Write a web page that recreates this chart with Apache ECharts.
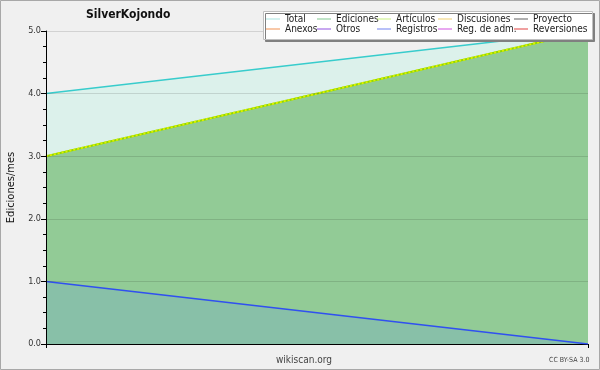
<!DOCTYPE html>
<html><head><meta charset="utf-8">
<script src="https://cdn.jsdelivr.net/npm/echarts@6/dist/echarts.min.js"></script>
<style>html,body{margin:0;padding:0;background:#f0f0f0}#c{width:600px;height:370px}</style>
</head><body><div id="c"></div>
<script>
const categories = ['M1', 'M2'];
const total = [4, 5];
const ediciones = [3, 5];
const articulos = [3, 5];
const registros = [1, 0];
const legendRow1 = ['Total', 'Ediciones', 'Artículos', 'Discusiones', 'Proyecto'];
const legendRow2 = ['Anexos', 'Otros', 'Registros', 'Reg. de adm.', 'Reversiones'];
const legendColors = {
  'Total': '#a8e4e0', 'Ediciones': '#80c890', 'Artículos': '#c8f080', 'Discusiones': '#f0d070', 'Proyecto': '#606060',
  'Anexos': '#f09050', 'Otros': '#9050e0', 'Registros': '#7080f0', 'Reg. de adm.': '#d050e0', 'Reversiones': '#e04040'
};
const colX = [285, 336, 396, 457, 533];
const font = 'DejaVu Sans Condensed';

const legends = [];
[legendRow1, legendRow2].forEach((row, r) => {
  row.forEach((name, i) => {
    legends.push({
      left: colX[i] - 19, top: r === 0 ? 14 : 24,
      itemWidth: 14, itemHeight: 1, icon: 'rect', padding: 0,
      selectedMode: false, z: 20,
      textStyle: { fontFamily: font, fontSize: 10, color: '#222' },
      data: [{ name: name, itemStyle: { color: legendColors[name] } }]
    });
  });
});

const allNames = legendRow1.concat(legendRow2);
const series = [];
const used = { 'Total': 1, 'Ediciones': 1, 'Artículos': 1, 'Registros': 1 };
series.push({
  name: 'Total', type: 'line', data: total, symbol: 'none', z: 2,
  lineStyle: { color: '#38cccc', width: 1.5 }, itemStyle: { color: legendColors['Total'] },
  areaStyle: { color: '#dcf1eb', opacity: 1 }
});
series.push({
  name: 'Ediciones', type: 'line', data: ediciones, symbol: 'none', z: 3,
  lineStyle: { color: '#92cb96', width: 1 }, itemStyle: { color: legendColors['Ediciones'] },
  areaStyle: { color: '#92cb96', opacity: 1 }
});
series.push({
  name: 'Artículos', type: 'line', data: articulos, symbol: 'none', z: 4,
  lineStyle: { color: '#90d800', width: 2 }, itemStyle: { color: legendColors['Artículos'] }
});
series.push({
  name: 'Artículos', type: 'line', data: articulos, symbol: 'none', z: 4,
  lineStyle: { color: '#e0f000', width: 2, type: [2, 2] }, legendHoverLink: false
});
series.push({
  name: 'Registros', type: 'line', data: registros, symbol: 'none', z: 5,
  lineStyle: { color: '#3050f0', width: 1.5 }, itemStyle: { color: legendColors['Registros'] },
  areaStyle: { color: '#88c0a8', opacity: 1 }
});
allNames.forEach(n => {
  if (!used[n]) series.push({ name: n, type: 'line', data: [], symbol: 'none', itemStyle: { color: legendColors[n] } });
});

const chart = echarts.init(document.getElementById('c'), null, { renderer: 'canvas' });
chart.setOption({
  animation: false,
  backgroundColor: '#f0f0f0',
  title: { text: 'SilverKojondo', left: 86, top: 9, padding: 0, textStyle: { fontFamily: font, fontSize: 12, fontWeight: 'bold', color: '#111' } },
  legend: legends,
  grid: { left: 46, right: 12, top: 31, bottom: 26, containLabel: false, outerBoundsMode: 'none' },
  xAxis: {
    type: 'category', data: categories, boundaryGap: false,
    axisLine: { lineStyle: { color: '#000', width: 1 } },
    axisTick: { show: true, length: 4, lineStyle: { color: '#000' } },
    axisLabel: { show: false }, splitLine: { show: false }
  },
  yAxis: {
    type: 'value', min: 0, max: 5, interval: 1, z: 10,
    name: 'Ediciones/mes', nameLocation: 'middle', nameGap: 29, nameRotate: 90,
    nameTextStyle: { fontFamily: font, fontSize: 11, color: '#111' },
    axisLine: { show: true, lineStyle: { color: '#000' } },
    axisTick: { show: true, length: 5, lineStyle: { color: '#000' } },
    minorTick: { show: true, splitNumber: 4, length: 3, lineStyle: { color: '#000' } },
    axisLabel: { fontFamily: font, fontSize: 9, color: '#333', margin: 5, formatter: v => v.toFixed(1) },
    splitLine: { show: true, lineStyle: { color: 'rgba(0,0,0,0.12)', width: 1 } }
  },
  graphic: [
    { type: 'rect', shape: { x: 0.5, y: 0.5, width: 599, height: 369 }, style: { fill: 'none', stroke: '#a8a8a8', lineWidth: 1 }, z: 0, silent: true },
    { type: 'rect', shape: { x: 263.5, y: 11.5, width: 329, height: 28 }, style: { fill: '#fff', stroke: '#c0c0c0', lineWidth: 1, shadowColor: '#808080', shadowOffsetX: 2, shadowOffsetY: 2, shadowBlur: 0 }, z: 15, silent: true },
    { type: 'text', left: 276, top: 355, style: { text: 'wikiscan.org', font: '10px "DejaVu Sans Condensed"', fill: '#444' }, z: 20 },
    { type: 'text', left: 549, top: 357, style: { text: 'CC BY-SA 3.0', font: '7px "DejaVu Sans Condensed"', fill: '#444' }, z: 20 }
  ],
  series: series
});
</script></body></html>
